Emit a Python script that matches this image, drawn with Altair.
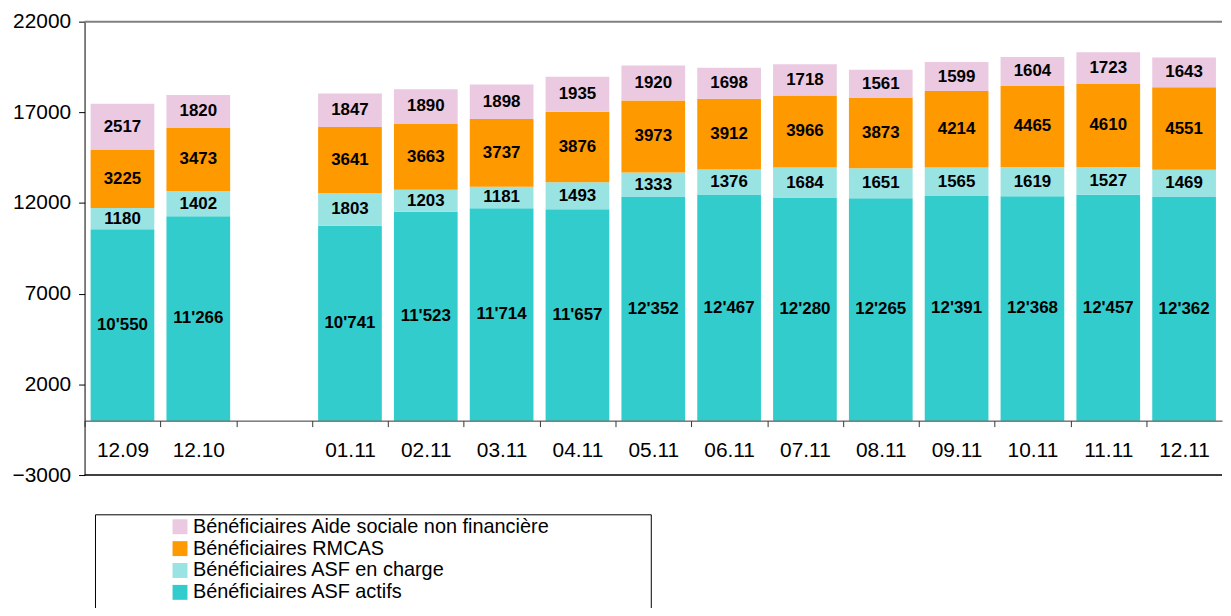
import altair as alt
import pandas as pd

months = ["12.09", "12.10", "01.11", "02.11", "03.11", "04.11", "05.11",
          "06.11", "07.11", "08.11", "09.11", "10.11", "11.11", "12.11"]
x_domain = ["12.09", "12.10", " ", "01.11", "02.11", "03.11", "04.11", "05.11",
            "06.11", "07.11", "08.11", "09.11", "10.11", "11.11", "12.11"]

asf_actifs = [10550, 11266, 10741, 11523, 11714, 11657, 12352,
              12467, 12280, 12265, 12391, 12368, 12457, 12362]
asf_en_charge = [1180, 1402, 1803, 1203, 1181, 1493, 1333,
                 1376, 1684, 1651, 1565, 1619, 1527, 1469]
rmcas = [3225, 3473, 3641, 3663, 3737, 3876, 3973,
         3912, 3966, 3873, 4214, 4465, 4610, 4551]
aide_sociale = [2517, 1820, 1847, 1890, 1898, 1935, 1920,
                1698, 1718, 1561, 1599, 1604, 1723, 1643]
y_ticks = [-3000, 2000, 7000, 12000, 17000, 22000]

series_names = ["Bénéficiaires ASF actifs", "Bénéficiaires ASF en charge",
                "Bénéficiaires RMCAS", "Bénéficiaires Aide sociale non financière"]
series_values = [asf_actifs, asf_en_charge, rmcas, aide_sociale]
legend_order = list(reversed(series_names))
colors = ["#EAC9E1", "#FF9900", "#99E3E3", "#33CCCC"]

rows = []
for order, (name, vals) in enumerate(zip(series_names, series_values)):
    for m, v in zip(months, vals):
        label = f"{v:,}".replace(",", "'") if order == 0 else str(v)
        rows.append({"month": m, "series": name, "order": order,
                     "value": v, "label": label})
df = pd.DataFrame(rows)

FONT = "Liberation Sans"

x_enc = alt.X(
    "month:N",
    scale=alt.Scale(domain=x_domain, paddingInner=0.16, paddingOuter=0.08),
    axis=alt.Axis(title=None, labelAngle=0, offset=-54.72, bandPosition=0,
                  tickOffset=-6, labelOffset=6, tickSize=6, labelPadding=13,
                  labelFontSize=21, labelFont=FONT, labelColor="black",
                  domainColor="#333333", tickColor="#333333", grid=False,
                  zindex=1),
)
y_scale = alt.Scale(domain=[-3000, 22000], nice=False, zero=False)

base = alt.Chart(df).transform_stack(
    stack="value", groupby=["month"], as_=["y0", "y1"],
    sort=[alt.SortField("order", order="ascending")],
).transform_calculate(mid="(datum.y0 + datum.y1) / 2")

bars = base.mark_bar().encode(
    x=x_enc,
    y=alt.Y("y0:Q", scale=y_scale,
            axis=alt.Axis(title=None, values=y_ticks, format="d",
                          grid=False, tickSize=6, labelPadding=8, labelFontSize=21,
                          labelFont=FONT, labelColor="black", domainColor="black",
                          tickColor="black")),
    y2="y1:Q",
    color=alt.Color("series:N",
                    scale=alt.Scale(domain=legend_order, range=colors),
                    legend=alt.Legend(title=None, orient="none", legendX=86, legendY=498,
                                      symbolType="square", symbolSize=225,
                                      symbolStrokeWidth=0, labelFontSize=20,
                                      labelFont=FONT, labelColor="black",
                                      labelOffset=3, rowPadding=2, padding=0,
                                      labelLimit=600)),
)

texts = base.mark_text(fontWeight="bold", fontSize=17, font=FONT,
                       color="black", baseline="middle").encode(
    x=alt.X("month:N"),
    y=alt.Y("mid:Q"),
    text="label:N",
)

top_rule = alt.Chart(pd.DataFrame({"v": [22000]})).mark_rule(
    color="#808080", strokeWidth=2).encode(y=alt.Y("v:Q"))
bottom_rule = alt.Chart(pd.DataFrame({"v": [-3000]})).mark_rule(
    color="black", strokeWidth=1.5).encode(y=alt.Y("v:Q"))

legend_box = alt.Chart(pd.DataFrame({"a": [0]})).mark_rect(
    fillOpacity=0, stroke="black", strokeWidth=1).encode(
    x=alt.value(11), x2=alt.value(570), y=alt.value(496), y2=alt.value(620))

chart = alt.layer(bars, texts, top_rule, bottom_rule, legend_box).properties(
    width=1144, height=456,
    autosize=alt.AutoSizeParams(type="none"),
    padding={"left": 77, "top": 12, "right": 1, "bottom": 132},
).configure_view(stroke=None)

chart.save("out.html", embed_options={"renderer": "svg", "actions": False})
